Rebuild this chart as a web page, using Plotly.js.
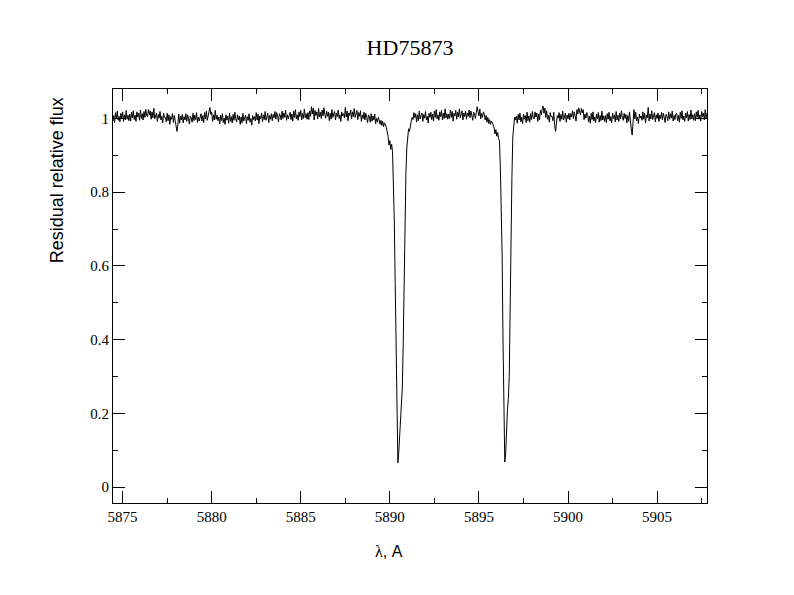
<!DOCTYPE html>
<html>
<head>
<meta charset="utf-8">
<script src="https://cdn.plot.ly/plotly-3.0.1.min.js"></script>
</head>
<body style="margin:0">
<div id="chart"></div>
<script>
// Continuum segment A: start 5874.40, step 0.05 (each row = 1 A)
var contA_start = 5874.40, contA_step = 0.05;
var contA = [
1.013,0.993,1.008,0.989,1.016,0.999,1.020,0.995,1.006,0.991,1.014,1.001,1.018,0.992,1.010,0.996,1.022,0.998,1.009,0.994,
1.012,0.993,1.017,1.002,1.021,0.997,1.009,0.992,1.018,1.004,1.014,0.995,1.023,1.000,1.013,0.996,1.019,1.003,1.025,1.007,
1.005,1.024,1.010,1.021,0.998,1.018,1.002,1.028,0.999,1.008,1.015,0.992,1.011,1.001,1.019,0.996,1.006,0.988,1.014,1.003,
1.003,0.991,1.014,0.994,1.010,0.984,1.005,0.998,1.013,0.989,1.008,0.995,0.978,0.965,0.982,1.012,0.987,1.006,0.996,1.011,
0.988,1.005,0.996,1.013,0.992,1.010,0.999,0.985,1.007,1.002,0.990,1.014,0.994,1.009,0.997,1.016,0.989,1.004,0.993,1.008,
1.013,0.993,1.008,0.989,1.016,0.999,1.020,0.995,1.006,1.012,1.030,1.011,1.018,0.992,1.010,0.996,1.022,0.998,1.009,0.994,
1.004,0.985,1.009,0.994,1.013,0.989,1.001,0.984,1.010,0.996,1.006,0.987,1.015,0.992,1.005,0.988,1.011,0.995,1.017,0.999,
0.991,1.010,0.996,1.007,0.984,1.004,0.988,1.014,0.993,1.002,1.009,0.986,1.005,0.995,1.013,0.990,1.000,0.982,1.008,0.997,
1.005,0.993,1.016,0.996,1.012,0.986,1.007,1.000,1.015,0.991,1.010,0.997,1.019,0.995,1.003,1.014,0.989,1.008,0.998,1.013,
0.994,1.011,1.002,1.019,0.998,1.016,1.005,0.991,1.013,1.008,0.996,1.020,1.000,1.015,1.003,1.022,0.995,1.010,0.999,1.014,
1.017,0.997,1.012,0.993,1.020,1.003,1.024,0.999,1.010,0.995,1.018,1.005,1.022,0.996,1.014,1.000,1.026,1.002,1.013,0.998,
1.016,0.997,1.021,1.006,1.032,1.012,1.028,0.996,1.022,1.008,1.018,0.999,1.027,1.004,1.017,1.000,1.023,1.007,1.029,1.011,
1.001,1.020,1.006,1.017,0.994,1.014,0.998,1.024,1.003,1.012,1.019,0.996,1.015,1.005,1.023,1.000,1.010,0.992,1.018,1.007,
1.013,1.001,1.030,1.004,1.020,0.994,1.015,1.008,1.023,0.999,1.018,1.005,1.027,1.003,1.011,1.022,0.997,1.016,1.006,1.021,
0.992,1.009,1.000,1.017,0.996,1.014,1.003,0.989,1.010,1.004,0.990,1.013,0.993,1.007,0.996,1.012,0.986,1.000,0.990,1.003,
0.996,0.984,0.995,0.981,0.992,0.978,0.988
];
// Na D2 line: start 5889.75, step 0.05
var line1_start = 5889.75, line1_step = 0.05;
var line1 = [
0.984,0.975,0.963,0.952,0.928,0.940,0.916,0.930,0.910,0.830,
0.720,0.550,0.330,0.140,0.066,0.095,0.150,0.185,0.215,0.270,
0.390,0.560,0.720,0.850,0.920,0.945,0.972,0.965,0.985,0.992,
1.003
];
// Continuum segment B: start 5891.30, step 0.05
var contB_start = 5891.30, contB_step = 0.05;
var contB = [
0.997,1.016,1.002,1.013,0.990,1.010,0.994,1.020,0.999,1.008,1.015,0.992,1.011,1.001,1.019,0.996,1.006,0.988,1.014,1.003,
1.017,0.997,1.012,0.993,1.020,1.003,1.024,0.999,1.010,0.995,1.018,1.005,1.022,0.996,1.014,1.000,1.026,1.002,1.013,0.998,
1.012,1.000,1.023,1.003,1.019,0.993,1.014,1.007,1.022,0.998,1.017,1.004,1.026,1.002,1.010,1.021,0.996,1.015,1.005,1.020,
0.998,1.015,1.006,1.023,1.002,1.020,1.009,0.995,1.017,1.012,1.000,1.024,1.032,1.019,1.007,1.026,0.999,1.014,1.003,1.018,
1.011,0.996,1.008,0.990,1.003,0.986,0.997,0.984,0.993
];
// Na D1 line: start 5895.75, step 0.05
var line2_start = 5895.75, line2_step = 0.05;
var line2 = [
0.990,0.982,0.975,0.958,0.970,0.952,0.962,0.946,0.940,0.870,
0.770,0.630,0.400,0.190,0.068,0.090,0.160,0.210,0.240,0.300,
0.480,0.700,0.840,0.950,0.996,1.004,0.996
];
// Continuum segment C: start 5897.10, step 0.05
var contC_start = 5897.10, contC_step = 0.05;
var contC = [
1.006,0.987,1.011,0.996,1.015,0.991,1.003,0.986,1.012,0.998,1.008,0.989,1.017,0.994,1.007,0.990,1.013,0.997,1.019,1.001,
0.999,1.018,1.004,1.015,0.992,1.012,0.996,1.022,1.010,1.026,1.034,1.014,1.028,1.003,1.021,0.998,1.008,0.990,1.016,1.005,
1.006,0.994,1.017,0.980,0.965,0.987,1.008,1.001,1.016,0.992,1.011,0.998,1.020,0.996,1.004,1.015,0.990,1.009,0.999,1.014,
0.996,1.013,1.004,1.021,1.000,1.018,1.007,0.993,1.024,1.012,1.029,1.022,1.010,1.027,1.015,1.024,0.997,1.012,1.001,1.016,
1.011,0.991,1.006,0.987,1.014,0.997,1.018,0.993,1.004,0.989,1.012,0.999,1.016,0.990,1.008,0.994,1.020,0.996,1.007,0.992,
1.008,0.989,1.013,0.998,1.017,0.993,1.005,0.988,1.014,1.000,1.010,0.991,1.019,0.996,1.009,0.992,1.015,0.999,1.021,1.003,
0.995,1.014,1.000,1.011,0.988,1.008,0.992,1.018,0.985,0.972,0.955,0.988,1.024,0.999,1.017,0.994,1.004,0.986,1.012,1.001,
1.007,0.995,1.018,0.998,1.014,0.988,1.009,1.002,1.030,0.993,1.012,0.999,1.021,0.997,1.005,1.016,0.991,1.010,1.000,1.015,
0.992,1.009,1.000,1.017,0.996,1.014,1.003,0.989,1.011,1.006,0.994,1.018,0.998,1.013,1.001,1.020,0.993,1.008,0.997,1.012,
1.014,0.994,1.009,0.990,1.017,1.000,1.021,0.996,1.007,0.992,1.015,1.002,1.019,0.993,1.011,0.997,1.023,0.999,1.010,0.995,
1.013,0.994,1.018,1.003,1.022,0.998,1.010,0.993,1.019,1.005,1.015,0.996,1.024,1.001,1.014,0.997
];
var xTickVals = [5875, 5880, 5885, 5890, 5895, 5900, 5905];
var xTickText = ['5875','5880','5885','5890','5895','5900','5905'];
var yTickVals = [0, 0.2, 0.4, 0.6, 0.8, 1];
var yTickText = ['0','0.2','0.4','0.6','0.8','1'];
var titleText = 'HD75873';
var xTitleText = '<span style="font-family:Liberation Serif">λ</span>, A';
var yTitleText = 'Residual relative flux';

var wl = [], flux = [];
function addSeg(start, step, vals) {
  for (var i = 0; i < vals.length; i++) {
    wl.push(Math.round((start + i * step) * 1000) / 1000);
    flux.push(vals[i]);
  }
}
addSeg(contA_start, contA_step, contA);
addSeg(line1_start, line1_step, line1);
addSeg(contB_start, contB_step, contB);
addSeg(line2_start, line2_step, line2);
addSeg(contC_start, contC_step, contC);

var serif = 'Liberation Serif';
var sans = 'Liberation Sans';

var trace = {
  x: wl, y: flux, type: 'scatter', mode: 'lines',
  line: {color: '#000', width: 1}, hoverinfo: 'skip'
};
var layout = {
  width: 794, height: 595,
  margin: {l: 113, r: 87, t: 89, b: 92},
  paper_bgcolor: '#fff', plot_bgcolor: '#fff',
  font: {family: serif, size: 15, color: '#000'},
  showlegend: false,
  title: {text: titleText, font: {family: serif, size: 22, color: '#000'},
          x: 0.5, xref: 'paper', y: 1 - 47/595, yref: 'container', yanchor: 'middle'},
  xaxis: {
    showline: true, linecolor: '#000', linewidth: 1, mirror: 'ticks',
    ticks: 'inside', ticklen: 12, tickcolor: '#000',
    showgrid: false, zeroline: false,
    tickfont: {family: serif, size: 15, color: '#000'},
    range: [5874.46, 5907.8], tickmode: 'array', tickvals: xTickVals, ticktext: xTickText,
    minor: {dtick: 2.5, ticklen: 5, ticks: 'inside', tickcolor: '#000'}
  },
  yaxis: {
    showline: true, linecolor: '#000', linewidth: 1, mirror: 'ticks',
    ticks: 'inside', ticklen: 12, tickcolor: '#000',
    showgrid: false, zeroline: false,
    tickfont: {family: serif, size: 15, color: '#000'},
    range: [-0.043, 1.08], tickmode: 'array', tickvals: yTickVals, ticktext: yTickText,
    minor: {dtick: 0.1, ticklen: 5, ticks: 'inside', tickcolor: '#000'}
  },
  annotations: [
    {text: xTitleText, xref: 'paper', yref: 'paper', x: 0.465, y: -0.118,
     xanchor: 'center', yanchor: 'middle', showarrow: false,
     font: {family: sans, size: 16, color: '#000'}},
    {text: yTitleText, xref: 'paper', yref: 'paper', x: -0.094, y: 0.78,
     xanchor: 'center', yanchor: 'middle', textangle: -90, showarrow: false,
     font: {family: sans, size: 18, color: '#000'}}
  ]
};
Plotly.newPlot('chart', [trace], layout, {staticPlot: true, displayModeBar: false});
</script>
</body>
</html>
